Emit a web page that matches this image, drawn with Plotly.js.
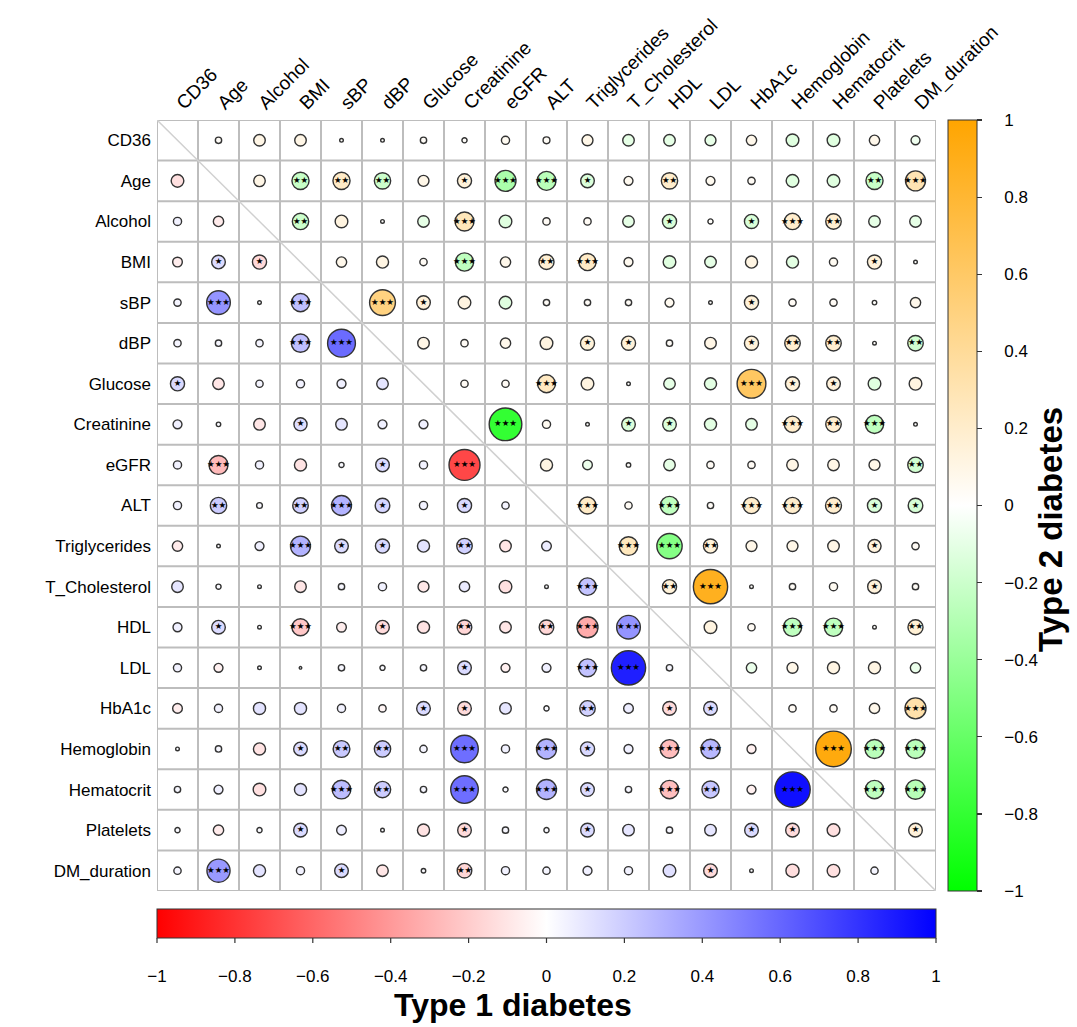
<!DOCTYPE html>
<html><head><meta charset="utf-8">
<script src="https://cdn.plot.ly/plotly-3.0.1.min.js"></script>
<style>html,body{margin:0;padding:0;background:#fff}</style>
</head><body><div id="chart" style="width:1077px;height:1027px"></div>
<script>
const variables = ["CD36","Age","Alcohol","BMI","sBP","dBP","Glucose","Creatinine","eGFR","ALT","Triglycerides","T_Cholesterol","HDL","LDL","HbA1c","Hemoglobin","Hematocrit","Platelets","DM_duration"];

// Type 2 diabetes: upper triangle, row i lists columns i+1 .. 18
const type2Upper = [
 [0.03,0.1,0.1,0.01,0.01,0.03,0.02,0.05,0.035,0.09,-0.1,-0.1,-0.09,0.08,-0.12,-0.12,0.08,-0.06],
 [0.1,-0.22,0.22,-0.2,0.09,0.15,-0.33,-0.27,-0.14,0.06,0.2,0.06,0.04,-0.12,-0.12,-0.22,0.3],
 [-0.2,0.12,0.01,-0.1,0.27,-0.12,0.04,0.04,-0.1,-0.15,0.02,-0.15,0.2,0.18,-0.1,-0.1],
 [0.08,0.11,0.04,-0.25,0.08,0.17,0.22,0.06,-0.12,-0.1,0.11,-0.11,0.05,0.15,0.01],
 [0.5,0.14,0.12,-0.12,0.03,0.03,0.03,0.06,0.01,0.15,0.04,0.04,0.015,0.08],
 [0.1,0.04,0.08,0.12,0.15,0.15,0.03,0.1,0.15,0.18,0.18,0.01,-0.18],
 [0.04,0.04,0.24,0.12,0.01,-0.1,-0.11,0.62,0.15,0.14,-0.12,0.12],
 [-0.8,0.05,0.01,-0.14,-0.14,-0.11,-0.1,0.2,0.18,-0.25,0.01],
 [0.11,-0.07,0.015,-0.1,0.04,0.04,0.1,0.1,0.09,-0.18],
 [0.22,0.04,-0.25,0.03,0.2,0.2,0.19,-0.15,-0.16],
 [0.26,-0.48,0.15,0.09,0.09,0.1,0.13,0.04],
 [0.15,0.88,0.01,0.03,0.05,0.14,0.03],
 [0.12,0.04,-0.25,-0.25,0.01,0.17],
 [-0.08,0.09,0.11,0.11,-0.08],
 [0.04,0.04,0.08,0.33],
 [0.95,-0.27,-0.27],
 [-0.25,-0.28],
 [0.14]
];
const type2Stars = [
 [0,0,0,0,0,0,0,0,0,0,0,0,0,0,0,0,0,0],
 [0,2,2,2,0,1,3,3,1,0,2,0,0,0,0,2,3],
 [2,0,0,0,3,0,0,0,0,1,0,1,3,2,0,0],
 [0,0,0,3,0,2,3,0,0,0,0,0,0,1,0],
 [3,1,0,0,0,0,0,0,0,1,0,0,0,0],
 [0,0,0,0,1,1,0,0,1,2,2,0,2],
 [0,0,3,0,0,0,0,3,1,1,0,0],
 [3,0,0,1,1,0,0,3,2,3,0],
 [0,0,0,0,0,0,0,0,0,2],
 [3,0,3,0,3,3,2,1,1],
 [3,3,2,0,0,0,1,0],
 [2,3,0,0,0,1,0],
 [0,0,3,3,0,2],
 [0,0,0,0,0],
 [0,0,0,3],
 [3,3,3],
 [3,3],
 [1]
];

// Type 1 diabetes: lower triangle, row i (from Age) lists columns 0 .. i-1
const type1Lower = [
 [-0.12],
 [0.05,-0.08],
 [-0.07,0.14,-0.15],
 [0.04,0.42,0.01,0.25],
 [0.04,0.03,0.04,0.25,0.58],
 [0.15,-0.1,0.04,0.05,0.06,0.1],
 [0.06,0.015,-0.1,0.13,0.1,0.06,0.06],
 [0.05,-0.27,0.05,-0.11,0.02,0.14,0.05,-0.72],
 [0.05,0.2,0.025,0.18,0.3,0.16,0.05,0.15,0.04],
 [-0.08,0.01,0.06,0.3,0.14,0.15,0.11,0.18,-0.1,0.07],
 [0.1,0.02,0.01,-0.1,0.03,0.05,-0.09,0.08,-0.12,0.01,0.23],
 [0.06,0.14,0.01,-0.22,-0.07,-0.14,-0.11,-0.16,-0.1,-0.16,-0.33,0.42],
 [0.05,-0.06,0.01,0.005,0.03,0.02,0.03,0.14,-0.06,0.06,0.24,0.88,0.03],
 [-0.07,0.05,0.11,0.11,0.05,-0.04,0.14,-0.14,0.1,0.02,0.18,0.07,-0.14,0.14],
 [0.01,0.03,-0.11,0.14,0.21,0.2,0.04,0.57,0.05,0.3,0.15,0.06,-0.26,0.28,-0.06],
 [0.03,0.06,-0.12,0.11,0.26,0.2,0.03,0.57,0.02,0.3,0.14,0.03,-0.25,0.22,-0.06,0.94],
 [0.02,-0.08,0.02,0.14,0.07,0.01,-0.11,-0.14,0.03,0.02,0.14,0.1,0.03,0.1,0.14,-0.14,-0.12],
 [0.04,0.4,0.11,0.05,0.14,-0.1,0.015,-0.16,0.05,0.04,0.06,0.05,0.12,-0.14,0.01,-0.13,-0.12,0.04]
];
const type1Stars = [
 [0],
 [0,0],
 [0,1,1],
 [0,3,0,3],
 [0,0,0,3,3],
 [1,0,0,0,0,0],
 [0,0,0,1,0,0,0],
 [0,3,0,0,0,1,0,3],
 [0,2,0,2,3,1,0,1,0],
 [0,0,0,3,1,1,0,2,0,0],
 [0,0,0,0,0,0,0,0,0,0,3],
 [0,1,0,3,0,1,0,2,0,2,3,3],
 [0,0,0,0,0,0,0,1,0,0,3,3,0],
 [0,0,0,0,0,0,1,1,0,0,2,0,1,1],
 [0,0,0,1,2,2,0,3,0,3,1,0,3,3,0],
 [0,0,0,0,3,2,0,3,0,3,1,0,3,2,0,3],
 [0,0,0,1,0,0,0,1,0,0,1,0,0,0,1,1,0],
 [0,3,0,0,1,0,0,2,0,0,0,0,0,1,0,0,0,0]
];
const colorbarTicks = [-1,-0.8,-0.6,-0.4,-0.2,0,0.2,0.4,0.6,0.8,1];

const W = 1077, H = 1027;
const M = {l:157, r:141, t:120, b:136};
const n = variables.length;
const plotW = W - M.l - M.r, plotH = H - M.t - M.b;
const cell = Math.min(plotW / n, plotH / n);
const diam = v => 0.9 * Math.sqrt(Math.abs(v)) * cell;
const fmt = v => (v < 0 ? '\u2212' + Math.abs(v) : String(v));
const FONT = 'Liberation Sans, Arial, Helvetica, sans-serif';

function collect(matrix, stars, upper) {
  const o = {x:[], y:[], c:[], s:[], tx:[], ty:[], t:[]};
  matrix.forEach((row, k) => {
    row.forEach((v, m) => {
      const r = upper ? k : k + 1;
      const col = upper ? k + 1 + m : m;
      o.x.push(col + 1); o.y.push(r + 1); o.c.push(v); o.s.push(diam(v));
      const st = stars[k][m];
      if (st > 0) { o.tx.push(col + 1); o.ty.push(r + 1); o.t.push('\u2605'.repeat(st)); }
    });
  });
  return o;
}
const up = collect(type2Upper, type2Stars, true);
const lo = collect(type1Lower, type1Stars, false);

const CB_THICK = 29, CB_GAP = 18, TICK_LEN = 5;
const cbCommon = {
  len: 1, lenmode: 'fraction', thickness: CB_THICK, thicknessmode: 'pixels',
  outlinewidth: 1, outlinecolor: '#333', ticks: 'outside',
  tickwidth: 1.2, tickvals: colorbarTicks,
  tickfont: {family: FONT, size: 17, color: '#000'}, xpad: 0, ypad: 0,
  title: {text: ''}
};

const traces = [
  {
    type: 'scatter', mode: 'markers', x: lo.x, y: lo.y, hoverinfo: 'skip',
    marker: {
      color: lo.c, cmin: -1, cmax: 1, size: lo.s, sizemode: 'diameter',
      colorscale: [[0, '#FF0000'], [0.5, '#FFFFFF'], [1, '#0000FF']],
      line: {color: '#333333', width: 1.4}, opacity: 1,
      showscale: true,
      colorbar: Object.assign({}, cbCommon, {
        orientation: 'h', x: 0.5, xanchor: 'center', y: -CB_GAP / plotH, yanchor: 'top',
        ticklen: 24, tickcolor: 'rgba(0,0,0,0)',
        ticktext: colorbarTicks.map(fmt)
      })
    }
  },
  {
    type: 'scatter', mode: 'markers', x: up.x, y: up.y, hoverinfo: 'skip',
    marker: {
      color: up.c, cmin: -1, cmax: 1, size: up.s, sizemode: 'diameter',
      colorscale: [[0, '#00FF00'], [0.5, '#FFFFFF'], [1, '#FFA500']],
      line: {color: '#333333', width: 1.4}, opacity: 1,
      showscale: true,
      colorbar: Object.assign({}, cbCommon, {
        x: 1 + 12 / plotW, xanchor: 'left', y: 0.5, yanchor: 'middle',
        ticklen: TICK_LEN, tickcolor: '#333',
        ticktext: colorbarTicks.map(v => '\u00a0\u00a0\u00a0\u00a0' + fmt(v))
      })
    }
  },
  {
    type: 'scatter', mode: 'text', x: lo.tx.concat(up.tx), y: lo.ty.concat(up.ty),
    text: lo.t.concat(up.t), hoverinfo: 'skip', showlegend: false,
    textposition: 'middle center',
    textfont: {family: 'DejaVu Sans', size: 8.5, color: '#000'}
  }
];

const shapes = [];
for (let k = 0; k <= n; k++) {
  shapes.push({type: 'line', xref: 'x', yref: 'y', x0: k + 0.5, x1: k + 0.5, y0: 0.5, y1: n + 0.5,
    line: {color: '#bdbdbd', width: 2}, layer: 'below'});
  shapes.push({type: 'line', xref: 'x', yref: 'y', y0: k + 0.5, y1: k + 0.5, x0: 0.5, x1: n + 0.5,
    line: {color: '#bdbdbd', width: 2}, layer: 'below'});
}
shapes.push({type: 'line', xref: 'x', yref: 'y', x0: 0.5, y0: 0.5, x1: n + 0.5, y1: n + 0.5,
  line: {color: '#d0d0d0', width: 1.5}, layer: 'below'});
// short visible tick marks under the horizontal colour bar (bar spans paper x 0..1 for cmin..cmax)
const barBottom = -(CB_GAP + CB_THICK) / plotH;
colorbarTicks.forEach(v => {
  const xp = (v + 1) / 2;
  shapes.push({type: 'line', xref: 'paper', yref: 'paper', x0: xp, x1: xp,
    y0: barBottom, y1: barBottom - TICK_LEN / plotH, line: {color: '#333', width: 1.2}});
});

const px2x = p => (p - M.l) / plotW;
const px2y = p => (H - M.b - p) / plotH;
const annotations = [
  {text: 'Type 1 diabetes', xref: 'paper', yref: 'paper', x: px2x(513), y: px2y(1005),
   xanchor: 'center', yanchor: 'middle', showarrow: false,
   font: {family: FONT, size: 32, weight: 'bold', color: '#000'}},
  {text: 'Type 2 diabetes', xref: 'paper', yref: 'paper', x: px2x(1050), y: px2y(530),
   xanchor: 'center', yanchor: 'middle', showarrow: false, textangle: -90,
   font: {family: FONT, size: 33, weight: 'bold', color: '#000'}}
];

const idx = variables.map((_, i) => i + 1);
const layout = {
  width: W, height: H,
  margin: Object.assign({autoexpand: false, pad: 0}, M),
  paper_bgcolor: '#fff', plot_bgcolor: '#fff',
  showlegend: false,
  font: {family: FONT, color: '#000'},
  xaxis: {range: [0.5, n + 0.5], side: 'top', tickvals: idx, ticktext: variables,
    tickangle: -45, showgrid: false, zeroline: false, showline: false, ticks: '',
    ticklabelstandoff: 2,
    tickfont: {family: FONT, size: 19, color: '#000'}, fixedrange: true},
  yaxis: {range: [n + 0.5, 0.5], tickvals: idx, ticktext: variables,
    showgrid: false, zeroline: false, showline: false, ticks: '',
    ticklabelstandoff: 5,
    tickfont: {family: FONT, size: 17, color: '#000'}, fixedrange: true},
  shapes: shapes,
  annotations: annotations
};

Plotly.newPlot('chart', traces, layout, {displayModeBar: false, staticPlot: true});
</script></body></html>
